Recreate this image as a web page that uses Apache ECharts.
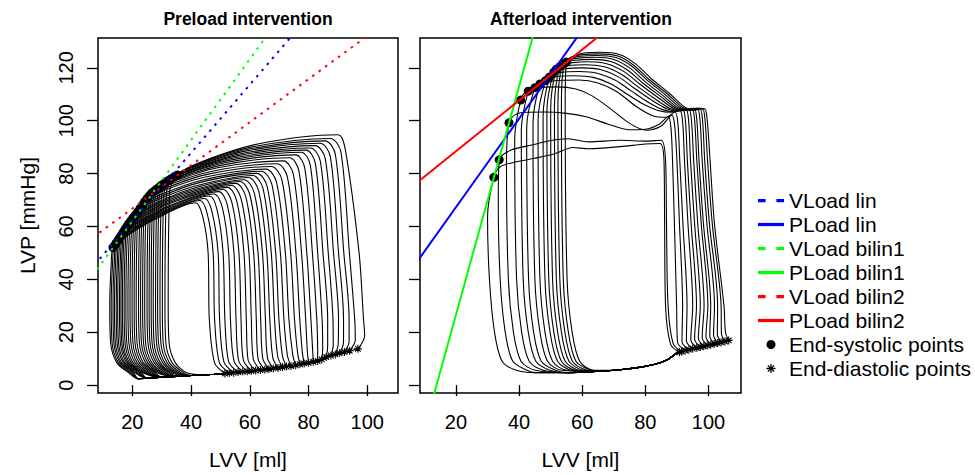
<!DOCTYPE html>
<html><head><meta charset="utf-8">
<script src="https://cdn.jsdelivr.net/npm/echarts@6/dist/echarts.min.js"></script>
<style>html,body{margin:0;padding:0;background:#fff}#c{width:975px;height:475px}</style>
</head><body><div id="c"></div>
<script>
// ================= DATA =================
const volumeTicks = [20, 40, 60, 80, 100];
const pressureTicks = [0, 20, 40, 60, 80, 100, 120];

// ---- Preload intervention: 30 loops ----
const preEDV = [51.5,53.0,54.5,56.0,57.6,59.1,60.5,62.0,63.6,65.1,66.5,68.0,69.6,71.1,72.5,74.0,75.6,77.1,78.5,80.0,81.6,83.1,84.5,86.0,87.6,89.1,90.6,92.2,94.0,96.8];
const preEDP = [4.4,4.6,4.7,4.9,5.1,5.2,5.4,5.5,5.7,5.9,6.1,6.3,6.5,6.8,7.0,7.2,7.5,7.9,8.2,8.4,8.8,9.1,9.7,10.6,11.2,11.6,12.1,12.5,13.0,13.7];
const preCLowV = [48.0,49.6,51.2,52.8,54.6,56.2,57.8,59.4,61.2,62.8,64.4,66.0,67.8,69.5,71.1,72.8,74.6,76.3,77.9,79.6,81.4,83.1,84.8,86.5,88.4,90.1,91.9,93.8,95.9,99.1];
const preCLowP = [8.4,8.6,8.7,8.9,9.1,9.2,9.4,9.5,9.7,9.9,10.1,10.3,10.5,10.8,11.0,11.2,11.5,11.9,12.2,12.4,12.8,13.1,13.7,14.6,15.2,15.6,16.1,16.5,17.0,18.7];
const preC25V = [46.2,48.0,49.7,51.5,53.4,55.3,57.0,58.8,60.5,62.2,63.7,65.3,66.8,68.4,69.9,71.6,73.3,75.2,77.0,79.0,80.8,82.8,84.6,86.5,88.3,90.2,91.9,93.8,95.7,98.7];
const preC50V = [45.8,47.5,49.2,50.9,52.8,54.6,56.3,58.0,59.7,61.3,62.8,64.3,65.8,67.3,68.8,70.4,72.1,73.9,75.7,77.6,79.4,81.3,83.1,84.9,86.7,88.5,90.2,92.0,93.9,97.2];
const preTV = [43.9,45.5,47.1,48.8,50.6,52.3,53.9,55.5,57.0,58.6,60.0,61.5,63.0,64.5,65.9,67.5,69.1,70.9,72.8,74.8,76.7,78.7,80.6,82.3,84.0,85.7,87.4,89.1,91.0,92.4];
const preTP = [64.0,64.8,65.6,66.5,67.3,68.2,69.0,69.8,70.5,71.3,72.0,72.7,73.5,74.3,75.1,75.9,76.7,77.7,78.7,79.8,81.0,82.1,83.1,83.9,84.7,85.6,86.5,87.4,88.3,89.7];
const prePKV = [41.5,43.0,44.6,46.2,47.8,49.4,50.9,52.4,53.8,55.2,56.6,58.0,59.5,61.0,62.4,63.9,65.5,67.3,69.3,71.4,73.5,75.6,77.5,79.1,80.6,82.2,83.9,85.6,87.4,90.0];
const prePKP = [69.0,69.8,70.6,71.5,72.3,73.2,74.0,74.8,75.5,76.3,77.0,77.7,78.5,79.3,80.1,80.9,81.7,82.7,83.7,84.8,86.0,87.1,88.1,88.9,89.7,90.6,91.5,92.4,93.3,94.7];
const preEj2V = [27.5,28.5,29.6,30.7,31.8,32.9,34.0,35.0,36.0,37.0,38.1,39.1,40.3,41.4,42.5,43.7,44.9,46.2,47.6,49.0,50.5,51.9,53.3,54.5,55.6,56.8,58.1,59.4,60.8,62.7];
const preEj2P = [62.6,63.5,64.5,65.5,66.5,67.6,68.5,69.6,70.5,71.4,72.4,73.3,74.3,75.3,76.5,77.5,78.7,79.9,81.0,82.2,83.2,84.2,85.1,85.9,86.7,87.5,88.4,89.2,90.1,91.2];
const preEj1V = [17.6,18.4,19.1,19.9,20.6,21.4,22.1,22.8,23.5,24.3,25.1,25.9,26.8,27.7,28.6,29.5,30.4,31.3,32.3,33.3,34.3,35.3,36.3,37.2,38.1,39.0,40.0,41.1,42.2,43.6];
const preEj1P = [56.0,56.9,57.9,59.0,60.0,61.1,62.1,63.2,64.2,65.2,66.3,67.3,68.3,69.6,70.8,72.0,73.4,74.5,75.7,76.7,77.6,78.5,79.2,80.0,80.6,81.3,82.1,82.9,83.7,84.5];
const preESV = [13.4,14.0,14.6,15.2,15.8,16.4,17.0,17.6,18.2,18.8,19.5,20.2,21.0,21.8,22.6,23.4,24.2,25.0,25.8,26.6,27.4,28.2,29.0,29.8,30.6,31.4,32.3,33.2,34.2,35.4];
const preESP = [52.0,52.9,53.9,54.9,55.9,57.0,58.0,59.1,60.1,61.1,62.2,63.2,64.3,65.5,66.8,68.1,69.4,70.6,71.7,72.7,73.4,74.1,74.8,75.5,76.1,76.7,77.4,78.1,78.8,79.5];
const preRelaxV = [12.3,12.8,13.4,13.9,14.5,15.0,15.6,16.1,16.6,17.2,17.8,18.5,19.2,19.9,20.6,21.3,22.1,22.8,23.5,24.2,25.0,25.7,26.4,27.1,27.9,28.6,29.4,30.2,31.1,32.2];
const preFill = [[20,2.3],[22,2.35],[25,2.6],[30,3.0],[35,3.3],[40,3.6],[45,3.9],[50,4.2],[55,4.75],[60,5.3],[65,5.9],[70,6.6],[75,7.4],[80,8.4],[84,9.3],[86.5,10.9],[90,11.9],[95,13.2],[100,14.6]];

// ---- Afterload intervention: 15 loops ----
const aftEDV = [90.8,91.5,92.6,93.8,95.0,96.3,97.4,98.5,99.6,100.7,101.8,102.9,104.0,105.2,106.4];
const aftEDP = [12.4,12.7,13.1,13.4,13.8,14.1,14.4,14.7,15.0,15.3,15.6,15.9,16.2,16.5,16.9];
const aftCLowV = [88.0,88.8,90.2,91.6,93.0,94.4,95.6,96.8,98.0,99.2,100.4,101.6,102.8,104.1,105.4];
const aftCLowP = [15.4,15.7,16.1,16.4,16.8,17.1,17.4,17.7,18.0,18.3,18.6,18.9,19.2,19.5,19.9];
const aftC30V = [86.4,87.2,89.9,91.8,93.2,95.0,96.2,97.4,98.6,99.8,100.7,101.9,102.9,104.0,104.9];
const aftC61V = [86.1,86.7,89.2,90.8,91.9,93.5,94.5,95.6,96.6,97.7,98.4,99.5,100.3,101.2,101.9];
const aftC85V = [85.9,86.4,88.6,90.0,90.9,92.4,93.3,94.3,95.3,96.3,97.0,98.0,98.8,99.7,100.5];
const aftPreCorner = [null,null,[88.1,97.5],[89.3,98.0],[90.3,99.0],[91.8,99.6],[92.7,99.9],[93.7,100.1],[94.6,100.2],[95.6,100.3],[96.3,100.4],[97.3,100.4],[98.1,100.4],[98.9,100.3],[99.6,100.2]];
const aftCorner = [[84.6,91.4],[85.0,92.6],[87.2,101.6],[88.4,102.2],[89.4,103.3],[90.9,104.0],[91.8,104.3],[92.8,104.5],[93.7,104.6],[94.7,104.7],[95.4,104.8],[96.4,104.8],[97.2,104.8],[98.0,104.7],[98.7,104.6]];
const aftEjection = [
  [[80,91.2],[72,90.2],[62,89.4],[57,89.9],[51,87.4],[44.5,85.7],[38.5,84.3],[34,82.6]],
  [[80,92.3],[72,92.6],[62,92.0],[55.5,93.2],[50,92.5],[44,90.8],[37.5,88.9]],
  [[84.5,98.8],[80,96.8],[75,96.6],[68,98.8],[61.5,101.4],[55,102.8],[48,103.3],[42,103.2],[38.8,102.3]],
  [[85,98.0],[80.3,96.4],[75,99.0],[69,104.5],[63,109.5],[58,112.0],[52,112.8],[45.5,112.4],[42.3,111.2]],
  [[86.5,101.3],[82.5,101.8],[77,105.5],[71,111.0],[65,114.3],[59,115.4],[52,115.2],[47,114.3],[44.5,113.2]],
  [[88.2,103.2],[84,103.9],[79,106.5],[74,110.2],[69,114.0],[63.5,116.4],[57.5,117.0],[51.5,116.6],[47.2,115.3]],
  [[89.2,103.4],[85.5,104.2],[80.5,107.3],[75.5,111.3],[70.5,115.3],[65,117.9],[59,118.6],[53,118.2],[48.8,116.8]],
  [[90.2,103.6],[87,104.4],[82,107.8],[76.5,112.3],[71.5,116.6],[66,119.3],[60,120.0],[54.5,119.6],[50.6,118.1]],
  [[91,103.7],[88,104.5],[83,108.3],[77.5,113.0],[72.5,117.5],[67,120.4],[61,121.2],[55.5,120.8],[51.8,119.4]],
  [[92,103.8],[89,104.6],[84,108.8],[78.5,113.6],[73.5,118.4],[68,121.5],[62,122.3],[57,122.0],[53.2,121.0]],
  [[92.8,103.9],[89.8,104.7],[84.8,109.2],[79.3,114.2],[74.3,119.2],[69,122.4],[63,123.2],[57.8,122.9],[54.0,122.0]],
  [[93.5,103.9],[90.5,104.8],[85.5,109.6],[80,114.7],[75,120.0],[70,123.2],[64,124.0],[58.8,123.7],[55.1,122.8]],
  [[94.2,104.0],[91.2,104.9],[86.2,110.0],[80.7,115.2],[75.7,120.6],[70.7,123.9],[64.5,124.7],[59.5,124.4],[55.8,123.4]],
  [[94.8,104.0],[91.8,105.0],[86.8,110.3],[81.3,115.5],[76.3,121.0],[71.3,124.5],[65,125.3],[60,125.0],[56.5,124.0]],
  [[95.4,104.0],[92.5,105.1],[87.5,110.5],[82,115.8],[77,121.4],[72,125.0],[65.5,125.9],[60.5,125.6],[57.2,124.5]]
];
const aftESV = [32.0,33.7,36.8,40.5,42.9,45.0,46.6,48.4,49.6,51.0,51.8,52.9,53.6,54.3,55.0];
const aftESP = [78.6,85.2,99.2,107.8,111.2,112.5,113.9,115.2,116.5,118.4,119.5,120.5,121.1,121.7,122.2];
const aftRelaxV = [30.6,34.0,36.6,39.2,41.3,43.0,45.0,46.6,48.2,49.4,50.6,51.8,52.9,54.0,55.2];
const aftFill = [[33,5.4],[38,5.0],[45,4.7],[55,4.7],[65,5.2],[72,5.8],[78,6.7],[83,7.9],[87,9.6],[90,12.1],[92,12.9],[95,13.8],[98,14.6],[101,15.4],[104,16.2],[107,17.1]];

// ---- ESPVR fits: intercept, slope ----
const preFitNames = ['VLoad lin','VLoad bilin1','VLoad bilin2'];
const preFitIntercept = [36.3, 31.4, 50.5];
const preFitSlope = [1.289, 1.532, 0.816];
const aftFitNames = ['PLoad lin','PLoad bilin1','PLoad bilin2'];
const aftFitIntercept = [33.8, -59.8, 69.2];
const aftFitSlope = [1.675, 4.32, 0.962];
const fitColors = ['#0000ff','#00ff00','#ff0000'];
const legendNames = ['VLoad lin','PLoad lin','VLoad bilin1','PLoad bilin1','VLoad bilin2','PLoad bilin2','End-systolic points','End-diastolic points'];

// ================= BUILD =================
const FONT = '"Liberation Sans", Arial, Helvetica, sans-serif';

function preLoop(i) {
  const rx = preRelaxV[i];
  const pts = [
    [preEDV[i], preEDP[i]], [preCLowV[i], preCLowP[i]], [preC25V[i], 25], [preC50V[i], 50],
    [preTV[i], preTP[i]], [prePKV[i], prePKP[i]], [preEj2V[i], preEj2P[i]], [preEj1V[i], preEj1P[i]],
    [preESV[i], preESP[i]],
    [rx + 0.5, preESP[i] - 6], [rx, 30], [rx + 0.3, 16], [rx + 2.4, 8.5], [rx + 6.5, 4.6]
  ];
  preFill.forEach(p => { if (p[0] > rx + 8 && p[0] < preEDV[i] - 0.5) pts.push(p); });
  pts.push([preEDV[i], preEDP[i]]);
  return pts;
}
function aftLoop(k) {
  const rx = aftRelaxV[k];
  const pts = [[aftEDV[k], aftEDP[k]], [aftCLowV[k], aftCLowP[k]], [aftC30V[k], 30], [aftC61V[k], 61], [aftC85V[k], 85]];
  if (aftPreCorner[k]) pts.push(aftPreCorner[k]);
  pts.push(aftCorner[k]);
  aftEjection[k].forEach(p => pts.push(p));
  pts.push([aftESV[k], aftESP[k]]);
  pts.push([rx - 0.6, aftESP[k] - 15], [rx, 40], [rx + 1.6, 20], [rx + 4, 9], [rx + 8.5, 5.6]);
  aftFill.forEach(p => { if (p[0] > rx + 10 && p[0] < aftEDV[k] - 0.5) pts.push(p); });
  pts.push([aftEDV[k], aftEDP[k]]);
  return pts;
}

const series = [];
preEDV.forEach((_, i) => series.push({type:'line', xAxisIndex:0, yAxisIndex:0, data: preLoop(i), smooth:0.3,
  symbol:'none', silent:true, lineStyle:{color:'#000', width:1.1}}));
aftEDV.forEach((_, k) => series.push({type:'line', xAxisIndex:1, yAxisIndex:1, data: aftLoop(k), smooth:0.3,
  symbol:'none', silent:true, lineStyle:{color:'#000', width:1.1}}));

preFitNames.forEach((n, j) => series.push({type:'line', name:n, xAxisIndex:0, yAxisIndex:0, symbol:'none', silent:true,
  data:[[0, preFitIntercept[j]], [120, preFitIntercept[j] + 120 * preFitSlope[j]]],
  lineStyle:{color:fitColors[j], width:2, type:[2.5,5.5]}, itemStyle:{color:fitColors[j]}}));
aftFitNames.forEach((n, j) => series.push({type:'line', name:n, xAxisIndex:1, yAxisIndex:1, symbol:'none', silent:true,
  data:[[0, aftFitIntercept[j]], [120, aftFitIntercept[j] + 120 * aftFitSlope[j]]],
  lineStyle:{color:fitColors[j], width:2}, itemStyle:{color:fitColors[j]}}));

const star = 'path://M0 5L10 5M5 0L5 10M1.5 1.5L8.5 8.5M8.5 1.5L1.5 8.5';
[[preESV, preESP, 0], [aftESV, aftESP, 1]].forEach(([vs, ps, g]) => series.push({type:'scatter', name:'End-systolic points',
  xAxisIndex:g, yAxisIndex:g, data: vs.map((v, i) => [v, ps[i]]), symbol:'circle', symbolSize:9, silent:true,
  itemStyle:{color:'#000', opacity:1}}));
[[preEDV, preEDP, 0], [aftEDV, aftEDP, 1]].forEach(([vs, ps, g]) => series.push({type:'scatter', name:'End-diastolic points',
  xAxisIndex:g, yAxisIndex:g, data: vs.map((v, i) => [v, ps[i]]), symbol:star, symbolSize:8, silent:true,
  itemStyle:{color:'rgba(0,0,0,0)', borderColor:'#000', borderWidth:1.1, opacity:1}}));

function xAxis(g, min, max) {
  return {gridIndex:g, type:'value', min, max, name:'LVV [ml]', nameLocation:'middle', nameGap:56,
    nameTextStyle:{fontSize:21, color:'#000', fontFamily:FONT},
    axisLine:{show:false}, splitLine:{show:false},
    axisTick:{show:true, length:11, customValues:volumeTicks, lineStyle:{color:'#000', width:1.3}},
    axisLabel:{show:true, customValues:volumeTicks, fontSize:20, color:'#000', margin:19, fontFamily:FONT}};
}
function yAxis(g, labels) {
  return {gridIndex:g, type:'value', min:-3.0, max:131.3,
    name: labels ? 'LVP [mmHg]' : '', nameLocation:'middle', nameGap:60, nameRotate:90,
    nameTextStyle:{fontSize:21, color:'#000', fontFamily:FONT},
    axisLine:{show:false}, splitLine:{show:false},
    axisTick:{show:true, length:11, customValues:pressureTicks, lineStyle:{color:'#000', width:1.3}},
    axisLabel:{show:labels, customValues:pressureTicks, rotate:90, fontSize:20, color:'#000', margin:22, fontFamily:FONT}};
}

const dashIcon = 'path://M0 0L7 0L7 3L0 3Z M17 0L24 0L24 3L17 3Z';
const solidIcon = 'path://M0 0L24 0L24 3L0 3Z';
const legendData = legendNames.map(n => {
  if (n.startsWith('VLoad')) return {name:n, icon:dashIcon};
  if (n.startsWith('PLoad')) return {name:n, icon:solidIcon};
  if (n.startsWith('End-systolic')) return {name:n, icon:'circle', itemStyle:{color:'#000', opacity:1}};
  return {name:n, icon:star, itemStyle:{color:'rgba(0,0,0,0)', borderColor:'#000', borderWidth:1.3, opacity:1}};
});

const option = {
  animation:false,
  backgroundColor:'#fff',
  textStyle:{fontFamily:FONT},
  grid:[
    {left:98, top:38, width:300, height:356, show:true, borderColor:'#000', borderWidth:1.5, backgroundColor:'transparent'},
    {left:420, top:38, width:321, height:356, show:true, borderColor:'#000', borderWidth:1.5, backgroundColor:'transparent'}
  ],
  xAxis:[xAxis(0, 8.3, 110.45), xAxis(1, 8.6, 110.3)],
  yAxis:[yAxis(0, true), yAxis(1, false)],
  legend:{orient:'vertical', left:758, top:190, padding:0, itemWidth:26, itemHeight:9, itemGap:3,
    selectedMode:false, textStyle:{fontSize:21, color:'#000', fontFamily:FONT}, data:legendData},
  graphic:[
    {type:'text', x:248, y:19, style:{text:'Preload intervention', font:'bold 17.5px ' + FONT, fill:'#000',
      align:'center', verticalAlign:'middle', textAlign:'center', textVerticalAlign:'middle'}},
    {type:'text', x:581, y:19, style:{text:'Afterload intervention', font:'bold 17.5px ' + FONT, fill:'#000',
      align:'center', verticalAlign:'middle', textAlign:'center', textVerticalAlign:'middle'}}
  ],
  series
};

const chart = echarts.init(document.getElementById('c'), null, {renderer:'svg', width:975, height:475});
chart.setOption(option);
</script>
</body></html>
